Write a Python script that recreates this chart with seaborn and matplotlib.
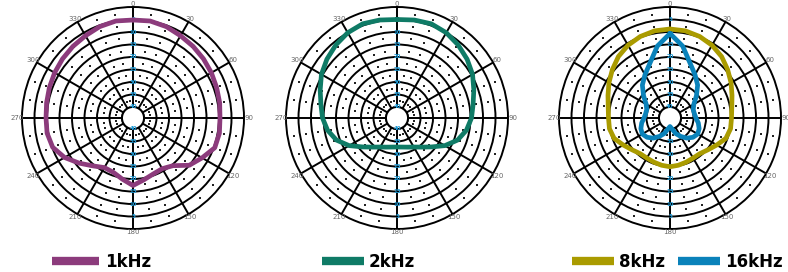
import matplotlib
matplotlib.use("Agg")
import matplotlib.pyplot as plt
from matplotlib.lines import Line2D
import numpy as np
import pandas as pd
import seaborn as sns

# response level (dB) read every 10 degrees, clockwise from 0 (on-axis)
ANGLES = [0, 10, 20, 30, 40, 50, 60, 70, 80, 90, 100, 110, 120, 130, 140, 150, 160, 170,
          180, 190, 200, 210, 220, 230, 240, 250, 260, 270, 280, 290, 300, 310, 320, 330, 340, 350]

LEVEL_1K = [-5.2, -5.0, -5.5, -6.4, -7.0, -7.6, -8.2, -8.8, -9.2, -9.6, -9.3, -9.6, -12.5, -15.0,
            -19.5, -21.0, -20.6, -19.3, -17.4, -19.6, -21.3, -21.5, -19.4, -16.3, -12.8, -10.2,
            -9.5, -9.6, -9.3, -8.8, -8.2, -7.6, -7.0, -6.4, -5.5, -5.0]
LEVEL_2K = [-5.0, -4.6, -4.3, -5.0, -6.3, -7.8, -9.5, -11.7, -13.5, -14.6, -16.2, -18.6, -22.3,
            -26.4, -29.2, -31.0, -32.0, -32.6, -32.8, -32.6, -32.0, -31.0, -29.2, -26.4, -22.3,
            -18.6, -16.2, -14.6, -13.5, -11.7, -9.5, -7.8, -6.3, -5.0, -4.3, -4.6]
LEVEL_8K = [-8.8, -9.0, -9.7, -10.8, -12.3, -14.3, -16.2, -18.0, -19.3, -19.8, -19.8, -20.6,
            -22.8, -24.6, -25.8, -25.9, -25.6, -25.2, -24.9, -25.2, -25.6, -25.9, -25.8, -24.6,
            -22.8, -20.6, -19.8, -19.8, -19.3, -18.0, -16.2, -14.3, -12.3, -10.8, -9.7, -9.0]
LEVEL_16K = [-10.6, -15.2, -21.0, -24.4, -27.2, -30.6, -33.4, -34.5, -34.5, -34.0, -32.9, -32.0,
             -31.6, -32.4, -33.9, -35.9, -37.8, -40.0, -41.0, -40.0, -37.8, -35.9, -33.9, -32.4,
             -31.6, -32.0, -32.9, -34.0, -34.5, -34.5, -33.4, -30.6, -27.2, -24.4, -21.0, -15.2]

FREQS = ["1kHz", "2kHz", "8kHz", "16kHz"]
COLORS = {"1kHz": "#8C3B7C", "2kHz": "#0F7B66", "8kHz": "#AA9B00", "16kHz": "#0A82BA"}
PANELS = [["1kHz"], ["2kHz"], ["8kHz", "16kHz"]]

RINGS = [-40, -35, -30, -25, -20, -15, -10, -5]
RING_LABELS = ["40", "35", "30", "25", "20", "15", "10", "5"]
SPOKES = [0, 30, 60, 90, 120, 150, 180, 210, 240, 270, 300, 330]

W, H = 788, 272
CENTERS_X = [133, 397, 670]
CENTER_Y = 118
RADIUS = 111
PX_PER_DB = 2.5


def build_frame() -> pd.DataFrame:
    rows = []
    for name, levels in zip(FREQS, [LEVEL_1K, LEVEL_2K, LEVEL_8K, LEVEL_16K]):
        for i, (a, v) in enumerate(zip(ANGLES + [360], levels + levels[:1])):
            rows.append({"freq": name, "order": i, "theta": np.deg2rad(a), "level": v})
    return pd.DataFrame(rows)


def style_axes(ax):
    ax.set_theta_zero_location("N")
    ax.set_theta_direction(-1)
    ax.set_rlim(-40, 0)
    ax.set_rorigin(-44.4)
    ax.set_rgrids(RINGS, labels=[""] * len(RINGS))
    ax.set_thetagrids(SPOKES, labels=[""] * len(SPOKES))
    ax.grid(True, color="black", linewidth=1.4)
    for sp in ax.spines.values():
        sp.set_color("black")
        sp.set_linewidth(1.4)
    ax.set_facecolor("white")

    # angle labels just outside the rim
    for s in SPOKES:
        t = np.deg2rad(s)
        r = (2.5 + 2.5 * abs(np.sin(t))) / PX_PER_DB
        ax.text(t, r, str(s), ha="center", va="center", fontsize=5,
                color="#666666", clip_on=False)

    # minor dotted marks every 10 degrees, between the rings
    minor_t = [np.deg2rad(a) for a in range(0, 360, 10) if a % 30]
    mids = [r + 2.5 for r in RINGS]
    tt, rr = np.meshgrid(minor_t, mids)
    ax.scatter(tt.ravel(), rr.ravel(), s=0.8, c="#222222", marker="s", linewidths=0, zorder=2)

    # small blue ring values along the vertical axis
    for r, lab in zip(RINGS, RING_LABELS):
        for t in (0, np.pi):
            ax.text(t, r, lab, ha="center", va="center", fontsize=3.9,
                    color="#1E9BD7", fontweight="bold", zorder=3)


def main() -> None:
    sns.set_style("white")
    plt.rcParams["font.family"] = ["DejaVu Sans"]
    df = build_frame()

    fig = plt.figure(figsize=(W / 100, H / 100), dpi=100)
    legend_x = [52, 322, 572]
    handle_len = [2.55, 2.25, 2.25]
    for cx, names, lx, hl in zip(CENTERS_X, PANELS, legend_x, handle_len):
        rect = [(cx - RADIUS) / W, (H - CENTER_Y - RADIUS) / H, 2 * RADIUS / W, 2 * RADIUS / H]
        ax = fig.add_axes(rect, projection="polar")
        style_axes(ax)
        sub = df[df["freq"].isin(names)]
        sns.lineplot(data=sub, x="theta", y="level", hue="freq", hue_order=names,
                     palette=COLORS, sort=False, estimator=None, units="freq",
                     linewidth=3.4, legend=False, ax=ax)
        for ln in ax.lines:
            ln.set_clip_on(False)
            ln.set_zorder(4)
        ax.set_xlabel("")
        ax.set_ylabel("")

        handles = [Line2D([], [], color=COLORS[n], linewidth=6, solid_capstyle="butt")
                   for n in names]
        leg = fig.legend(handles, names, loc="center left",
                         bbox_to_anchor=(lx / W, 1 - 262 / H), frameon=False, ncol=len(names),
                         borderpad=0, borderaxespad=0, handlelength=hl, handletextpad=0.3,
                         columnspacing=0.7,
                         prop={"family": "DejaVu Sans", "stretch": "condensed",
                               "weight": "bold", "size": 13.3})
        for t in leg.get_texts():
            t.set_color("black")

    fig.savefig("out.png", dpi=100, facecolor="white")


if __name__ == "__main__":
    main()
